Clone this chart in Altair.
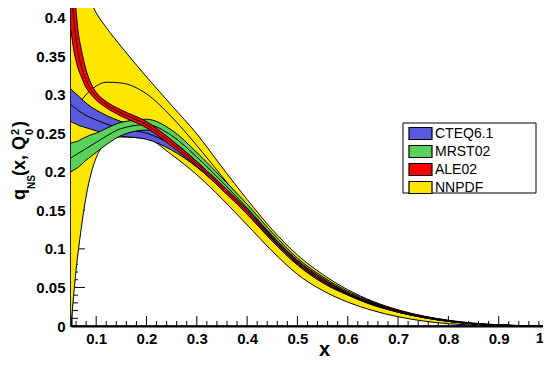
import altair as alt
import pandas as pd

# ---------------- data ----------------
X = [0.05, 0.055, 0.06, 0.065, 0.07, 0.08, 0.09, 0.10, 0.12, 0.15, 0.20, 0.25, 0.30, 0.35, 0.40,
     0.45, 0.50, 0.55, 0.60, 0.65, 0.70, 0.75, 0.80, 0.85, 0.90, 0.95, 1.00]

NNPDF_LO = [0.0, 0.038, 0.072, 0.100, 0.125, 0.168, 0.198, 0.218, 0.237, 0.245, 0.243, 0.222, 0.196,
            0.165, 0.131, 0.097, 0.067, 0.046, 0.031, 0.020, 0.012, 0.0065, 0.003, 0.0012, 0.0004,
            0.0001, 0.0]
NNPDF_MID = [0.28, 0.282, 0.285, 0.288, 0.292, 0.300, 0.306, 0.311, 0.316, 0.315, 0.301, 0.271, 0.234,
             0.194, 0.154, 0.116, 0.083, 0.059, 0.041, 0.028, 0.018, 0.011, 0.006, 0.0027, 0.001,
             0.0003, 0.0]
NNPDF_HI = [0.48, 0.472, 0.465, 0.457, 0.45, 0.433, 0.419, 0.406, 0.387, 0.362, 0.323, 0.286, 0.249,
            0.206, 0.164, 0.125, 0.092, 0.067, 0.047, 0.032, 0.021, 0.013, 0.0075, 0.0038, 0.0016,
            0.0005, 0.0]

CTEQ_LO = [0.265, 0.263, 0.262, 0.260, 0.259, 0.257, 0.255, 0.253, 0.249, 0.246, 0.242, 0.228, 0.206,
           0.177, 0.145, 0.110, 0.079, 0.056, 0.040, 0.027, 0.018, 0.011, 0.006, 0.0027, 0.001,
           0.0002, 0.0]
CTEQ_MID = [0.287, 0.284, 0.282, 0.279, 0.277, 0.273, 0.270, 0.267, 0.262, 0.256, 0.250, 0.235, 0.212,
            0.182, 0.149, 0.113, 0.081, 0.058, 0.041, 0.028, 0.0185, 0.0115, 0.0063, 0.0029, 0.0011,
            0.0003, 0.0]
CTEQ_HI = [0.307, 0.304, 0.301, 0.298, 0.295, 0.289, 0.284, 0.280, 0.273, 0.265, 0.258, 0.242, 0.218,
           0.187, 0.153, 0.116, 0.083, 0.060, 0.042, 0.029, 0.019, 0.012, 0.0066, 0.0031, 0.0012,
           0.0003, 0.0]

MRST_LO = [0.200, 0.202, 0.204, 0.206, 0.209, 0.215, 0.220, 0.225, 0.235, 0.247, 0.254, 0.240, 0.213,
           0.182, 0.148, 0.113, 0.081, 0.058, 0.041, 0.028, 0.018, 0.011, 0.006, 0.0028, 0.001,
           0.0002, 0.0]
MRST_MID = [0.218, 0.220, 0.222, 0.224, 0.226, 0.230, 0.234, 0.238, 0.246, 0.256, 0.261, 0.247, 0.219,
            0.187, 0.153, 0.117, 0.085, 0.061, 0.043, 0.029, 0.019, 0.012, 0.0066, 0.003, 0.0012,
            0.0003, 0.0]
MRST_HI = [0.237, 0.238, 0.239, 0.240, 0.242, 0.245, 0.248, 0.250, 0.256, 0.264, 0.268, 0.254, 0.225,
           0.192, 0.158, 0.121, 0.088, 0.064, 0.045, 0.031, 0.020, 0.0127, 0.007, 0.0033, 0.0013,
           0.0003, 0.0]

ALE_LO = [0.383, 0.360, 0.344, 0.332, 0.324, 0.309, 0.300, 0.293, 0.283, 0.272, 0.257, 0.233, 0.207,
          0.177, 0.145, 0.112, 0.081, 0.058, 0.041, 0.028, 0.018, 0.0115, 0.006, 0.0027, 0.001,
          0.0002, 0.0]
ALE_MID = [0.445, 0.402, 0.372, 0.352, 0.338, 0.319, 0.306, 0.298, 0.287, 0.276, 0.261, 0.237, 0.210,
           0.180, 0.148, 0.114, 0.083, 0.060, 0.042, 0.029, 0.019, 0.012, 0.0065, 0.003, 0.0012,
           0.0003, 0.0]
ALE_HI = [0.500, 0.460, 0.410, 0.378, 0.360, 0.332, 0.314, 0.303, 0.291, 0.280, 0.265, 0.241, 0.213,
          0.183, 0.151, 0.116, 0.085, 0.062, 0.043, 0.030, 0.020, 0.0125, 0.007, 0.0033, 0.0014,
          0.0004, 0.0]

SETS = ["CTEQ6.1", "MRST02", "ALE02", "NNPDF"]
COLORS = ["#5a5adc", "#5ad25a", "#ff0000", "#ffe600"]

X_MAJOR = [0.1, 0.2, 0.3, 0.4, 0.5, 0.6, 0.7, 0.8, 0.9, 1.0]
X_MINOR = [0.06, 0.08, 0.12, 0.14, 0.16, 0.18, 0.22, 0.24, 0.26, 0.28, 0.32, 0.34, 0.36, 0.38,
           0.42, 0.44, 0.46, 0.48, 0.52, 0.54, 0.56, 0.58, 0.62, 0.64, 0.66, 0.68, 0.72, 0.74,
           0.76, 0.78, 0.82, 0.84, 0.86, 0.88, 0.92, 0.94, 0.96, 0.98]
X_EDGE_LABEL = [1.0]
X_EDGE_TEXT = ["1"]
Y_MAJOR = [0.0, 0.05, 0.1, 0.15, 0.2, 0.25, 0.3, 0.35, 0.4]
Y_MINOR = [0.01, 0.02, 0.03, 0.04, 0.06, 0.07, 0.08, 0.09, 0.11, 0.12, 0.13, 0.14, 0.16, 0.17,
           0.18, 0.19, 0.21, 0.22, 0.23, 0.24, 0.26, 0.27, 0.28, 0.29, 0.31, 0.32, 0.33, 0.34,
           0.36, 0.37, 0.38, 0.39, 0.41]

# ---------------- layout ----------------
W, H = 478, 324
FONT = "Liberation Sans"

xscale = alt.Scale(domain=[0.05, 1.0], nice=False, zero=False)
yscale = alt.Scale(domain=[0.0, 0.42], nice=False, zero=False)
color = alt.Color(
    "set:N",
    scale=alt.Scale(domain=SETS, range=COLORS),
    legend=alt.Legend(
        orient="none", legendX=338, legendY=122, title=None,
        symbolType="M-1.118,-0.706H1.588V0.706H-1.118Z", symbolSize=289,
        symbolStrokeColor="black", symbolStrokeWidth=1.2, symbolOpacity=1,
        labelFont=FONT, labelFontSize=14, labelColor="black", labelOffset=7,
        rowPadding=-1, padding=0,
    ),
)

xaxis = alt.Axis(values=X_MAJOR, format=".1~f", ticks=False, grid=False,
                 labelExpr="datum.value >= 0.999 ? '' : datum.label",
                 labelFont=FONT, labelFontSize=15, labelFontWeight="bold", labelColor="black",
                 labelPadding=5, labelFlush=False, labelOverlap=False,
                 domainColor="black", domainWidth=2,
                 title="x", titleFont=FONT, titleFontSize=20, titleFontWeight="bold",
                 titleColor="black", titleX=253, titleY=29, titleBaseline="alphabetic",
                 titleAlign="center", titleAnchor="start")
yaxis = alt.Axis(values=Y_MAJOR, format=".2~f", ticks=False, grid=False,
                 labelFont=FONT, labelFontSize=15, labelFontWeight="bold", labelColor="black",
                 labelPadding=6, labelFlush=False, labelOverlap=False,
                 domainColor="black", domainWidth=2, title=None)


def XE(field):
    return alt.X(field, scale=xscale, axis=xaxis)


def YE(field):
    return alt.Y(field, scale=yscale, axis=yaxis)


def band_df(name, lo, mid, hi):
    return pd.DataFrame({"x": X, "lo": lo, "mid": mid, "hi": hi, "set": name})


def band_layers(df):
    base = alt.Chart(df)
    area = base.mark_area(interpolate="monotone", opacity=1, clip=True).encode(
        x=XE("x:Q"), y=YE("lo:Q"), y2="hi:Q", fill=color)
    lines = []
    for col in ["lo", "hi", "mid"]:
        lines.append(base.mark_line(interpolate="monotone", color="black", strokeWidth=1,
                                    clip=True).encode(x=XE("x:Q"), y=YE(f"{col}:Q")))
    return [area] + lines


# ticks pointing inward
xt_major = alt.Chart(pd.DataFrame({"v": X_MAJOR})).mark_rule(color="black", strokeWidth=1).encode(
    x=XE("v:Q"), y=alt.value(H), y2=alt.value(H - 10))
xt_minor = alt.Chart(pd.DataFrame({"v": X_MINOR})).mark_rule(color="black", strokeWidth=1).encode(
    x=XE("v:Q"), y=alt.value(H), y2=alt.value(H - 5))
yt_major = alt.Chart(pd.DataFrame({"v": Y_MAJOR})).mark_rule(color="black", strokeWidth=1).encode(
    y=YE("v:Q"), x=alt.value(0), x2=alt.value(14))
yt_minor = alt.Chart(pd.DataFrame({"v": Y_MINOR})).mark_rule(color="black", strokeWidth=1).encode(
    y=YE("v:Q"), x=alt.value(0), x2=alt.value(7))

# last x label, nudged so it stays on the page
edge_label = alt.Chart(pd.DataFrame({"v": X_EDGE_LABEL, "t": X_EDGE_TEXT})).mark_text(
    font=FONT, fontSize=15, fontWeight="bold", color="black", baseline="top", align="center",
    dx=-9).encode(x=XE("v:Q"), y=alt.value(H + 5), text="t:N")

one = pd.DataFrame({"a": [0]})
legend_box = alt.Chart(one).mark_rect(fill="white", stroke="black", strokeWidth=1).encode(
    x=alt.value(332), x2=alt.value(465), y=alt.value(121), y2=alt.value(191))


def ytitle(txt, x, y, size):
    return alt.Chart(one).mark_text(angle=270, align="left", baseline="alphabetic",
                                    font=FONT, fontSize=size, fontWeight="bold",
                                    color="black").encode(
        x=alt.value(x), y=alt.value(y), text=alt.value(txt))


title_parts = [
    ytitle("q", -46, 198, 18),
    ytitle("NS", -36, 187, 10),
    ytitle("(x, Q", -46, 174, 18),
    ytitle("2", -52, 133, 11),
    ytitle("0", -38, 133, 11),
    ytitle(")", -46, 125, 18),
]

layers = [xt_major, xt_minor, yt_major, yt_minor]
layers += band_layers(band_df("NNPDF", NNPDF_LO, NNPDF_MID, NNPDF_HI))
layers += band_layers(band_df("CTEQ6.1", CTEQ_LO, CTEQ_MID, CTEQ_HI))
layers += band_layers(band_df("MRST02", MRST_LO, MRST_MID, MRST_HI))
layers += band_layers(band_df("ALE02", ALE_LO, ALE_MID, ALE_HI))
layers += [legend_box, edge_label] + title_parts

chart = alt.layer(*layers).properties(
    width=W, height=H,
    padding={"left": 63, "top": -6, "right": -6, "bottom": 34},
    autosize=alt.AutoSizeParams(type="none"),
    background="white",
).configure_view(stroke="#444444", strokeWidth=2)

chart.save("out.html", embed_options={"renderer": "svg", "actions": False})
